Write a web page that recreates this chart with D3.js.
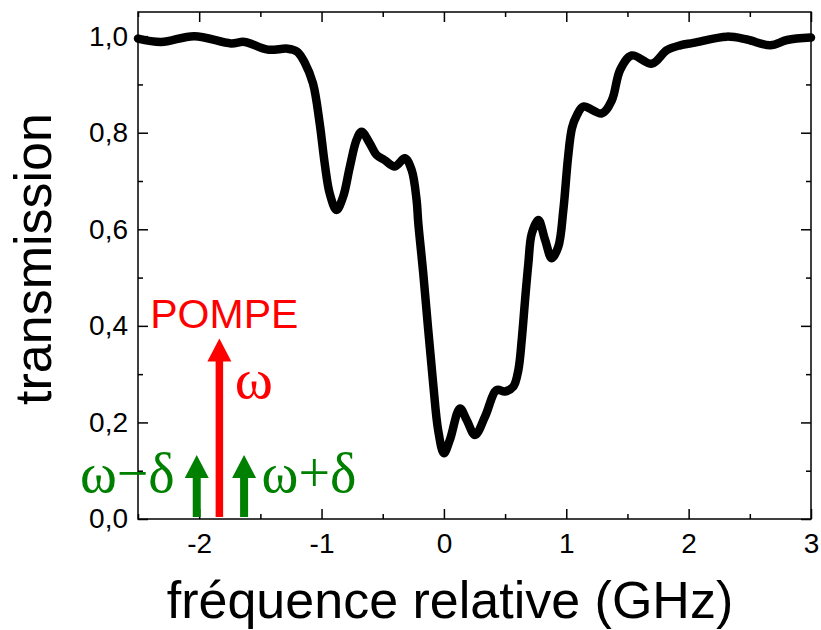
<!DOCTYPE html>
<html>
<head>
<meta charset="utf-8">
<script src="https://cdn.jsdelivr.net/npm/d3@7"></script>
<style>
body { margin: 0; background: #fff; }
svg { display: block; }
</style>
</head>
<body>
<div id="chart"></div>
<script>
// spectre de transmission
let freq = [-2.5, -2.31, -2.04, -1.74, -1.63, -1.44, -1.277, -1.2, -1.137, -1.07, -1.015, -0.974, -0.933, -0.878, -0.824, -0.769, -0.714, -0.673, -0.606, -0.551, -0.483, -0.401, -0.319, -0.264, -0.223, -0.21, -0.169, -0.128, -0.088, -0.047, 0.0, 0.049, 0.131, 0.186, 0.254, 0.336, 0.431, 0.499, 0.567, 0.608, 0.636, 0.663, 0.69, 0.718, 0.772, 0.827, 0.881, 0.935, 0.976, 1.015, 1.047, 1.086, 1.14, 1.29, 1.372, 1.44, 1.536, 1.70, 1.822, 1.931, 2.038, 2.313, 2.477, 2.668, 2.804, 3.0]
let trans = [0.995, 0.988, 1.0, 0.985, 0.988, 0.972, 0.974, 0.968, 0.945, 0.902, 0.819, 0.736, 0.674, 0.64, 0.667, 0.729, 0.785, 0.802, 0.778, 0.754, 0.743, 0.73, 0.747, 0.723, 0.66, 0.615, 0.509, 0.391, 0.281, 0.184, 0.136, 0.164, 0.229, 0.205, 0.174, 0.212, 0.267, 0.264, 0.274, 0.308, 0.371, 0.453, 0.529, 0.591, 0.619, 0.578, 0.54, 0.564, 0.64, 0.75, 0.81, 0.836, 0.854, 0.84, 0.867, 0.93, 0.96, 0.943, 0.971, 0.981, 0.986, 0.999, 0.993, 0.981, 0.992, 0.997]

let xTicks = [-2, -1, 0, 1, 2, 3]
let xMinor = [-2.5, -1.5, -0.5, 0.5, 1.5, 2.5]
let yTicks = [0, 0.2, 0.4, 0.6, 0.8, 1.0]
let yMinor = [0.1, 0.3, 0.5, 0.7, 0.9]

// fleches : pompe + bandes laterales
let arrowFreq = [-2.02, -1.835, -1.633]
let arrowTip = [0.1325, 0.374, 0.1325]
let arrowColor = ['#008000', '#ff0000', '#008000']

let width = 821, height = 630
let margin = {left: 138, top: 12, right: 10, bottom: 111}

let x = d3.scaleLinear().domain([-2.5, 3]).range([margin.left, width - margin.right])
let y = d3.scaleLinear().domain([0, 1.05]).range([height - margin.bottom, margin.top])

let fmt = d => d3.format('.1f')(d).replace('.', ',')

let svg = d3.select('#chart')
.append('svg')
.attr('width', width)
.attr('height', height)

function axisStyle(g) {
    g.select('.domain').remove()
    g.selectAll('line').attr('stroke', '#000').attr('stroke-width', 1.5)
    g.selectAll('text')
    .attr('fill', '#000')
    .style('font-family', '"Liberation Sans", Arial, sans-serif')
    .style('font-size', '28px')
}

let x0 = height - margin.bottom, y0 = margin.left

// axes bas / haut, ticks vers l'interieur
svg.append('g').attr('transform', `translate(0,${x0})`)
.call(d3.axisBottom(x).tickValues(xTicks).tickSizeInner(-10).tickSizeOuter(0).tickPadding(14).tickFormat(d => String(d)))
.call(axisStyle)

svg.append('g').attr('transform', `translate(0,${x0})`)
.call(d3.axisBottom(x).tickValues(xMinor).tickSize(-5).tickFormat(''))
.call(axisStyle)

svg.append('g').attr('transform', `translate(0,${margin.top})`)
.call(d3.axisTop(x).tickValues(xTicks).tickSize(-10).tickFormat(''))
.call(axisStyle)

svg.append('g').attr('transform', `translate(0,${margin.top})`)
.call(d3.axisTop(x).tickValues(xMinor).tickSize(-5).tickFormat(''))
.call(axisStyle)

svg.append('g').attr('transform', `translate(${y0},0)`)
.call(d3.axisLeft(y).tickValues(yTicks).tickSizeInner(-10).tickSizeOuter(0).tickPadding(10).tickFormat(fmt))
.call(axisStyle)

svg.append('g').attr('transform', `translate(${y0},0)`)
.call(d3.axisLeft(y).tickValues(yMinor).tickSize(-5).tickFormat(''))
.call(axisStyle)

svg.append('g').attr('transform', `translate(${width - margin.right},0)`)
.call(d3.axisRight(y).tickValues(yTicks).tickSize(-10).tickFormat(''))
.call(axisStyle)

svg.append('g').attr('transform', `translate(${width - margin.right},0)`)
.call(d3.axisRight(y).tickValues(yMinor).tickSize(-5).tickFormat(''))
.call(axisStyle)

svg.append('rect')
.attr('x', x.range()[0])
.attr('y', y.range()[1])
.attr('width', x.range()[1] - x.range()[0])
.attr('height', y.range()[0] - y.range()[1])
.attr('fill', 'none')
.attr('stroke', '#000')
.attr('stroke-width', 1.5)

// courbe
let pts = freq.map((f, i) => [f, trans[i]])

svg.append('path')
.datum(pts)
.attr('d', d3.line().x(d => x(d[0])).y(d => y(d[1])).curve(d3.curveCatmullRom.alpha(0.5)))
.attr('fill', 'none')
.attr('stroke', '#000')
.attr('stroke-width', 8.5)
.attr('stroke-linejoin', 'round')
.attr('stroke-linecap', 'round')

// fleches
let headLen = 23, headHalf = 12

arrowFreq.forEach((f, i) => {
    let cx = x(f), tip = y(arrowTip[i])
    svg.append('line')
    .attr('x1', cx).attr('x2', cx)
    .attr('y1', y(0) - 2).attr('y2', tip + headLen - 1)
    .attr('stroke', arrowColor[i])
    .attr('stroke-width', i == 1 ? 7.5 : 8)
    svg.append('path')
    .attr('d', `M${cx},${tip}L${cx + headHalf},${tip + headLen}L${cx - headHalf},${tip + headLen}Z`)
    .attr('fill', arrowColor[i])
})

let serif = '"Liberation Serif", "Times New Roman", serif'

svg.append('text')
.attr('x', x(-2.4)).attr('y', y(0.395))
.text('POMPE')
.attr('fill', '#ff0000')
.style('font-family', '"Liberation Sans", Arial, sans-serif')
.style('font-size', '41px')

svg.append('text')
.attr('x', x(-1.71)).attr('y', y(0.25))
.text('ω')
.attr('fill', '#ff0000')
.style('font-family', serif)
.style('font-size', '58px')

svg.append('text')
.attr('x', x(-2.2)).attr('y', y(0.056))
.attr('text-anchor', 'end')
.text('ω−δ')
.attr('fill', '#008000')
.style('font-family', serif)
.style('font-size', '56px')

svg.append('text')
.attr('x', x(-1.49)).attr('y', y(0.056))
.text('ω+δ')
.attr('fill', '#008000')
.style('font-family', serif)
.style('font-size', '56px')

// titres des axes
svg.append('text')
.attr('x', 450).attr('y', 618)
.attr('text-anchor', 'middle')
.text('fréquence relative (GHz)')
.style('font-family', '"Liberation Sans", Arial, sans-serif')
.style('font-size', '52px')

svg.append('text')
.attr('transform', 'translate(51,259) rotate(-90)')
.attr('text-anchor', 'middle')
.text('transmission')
.style('font-family', '"Liberation Sans", Arial, sans-serif')
.style('font-size', '52px')
</script>
</body>
</html>
